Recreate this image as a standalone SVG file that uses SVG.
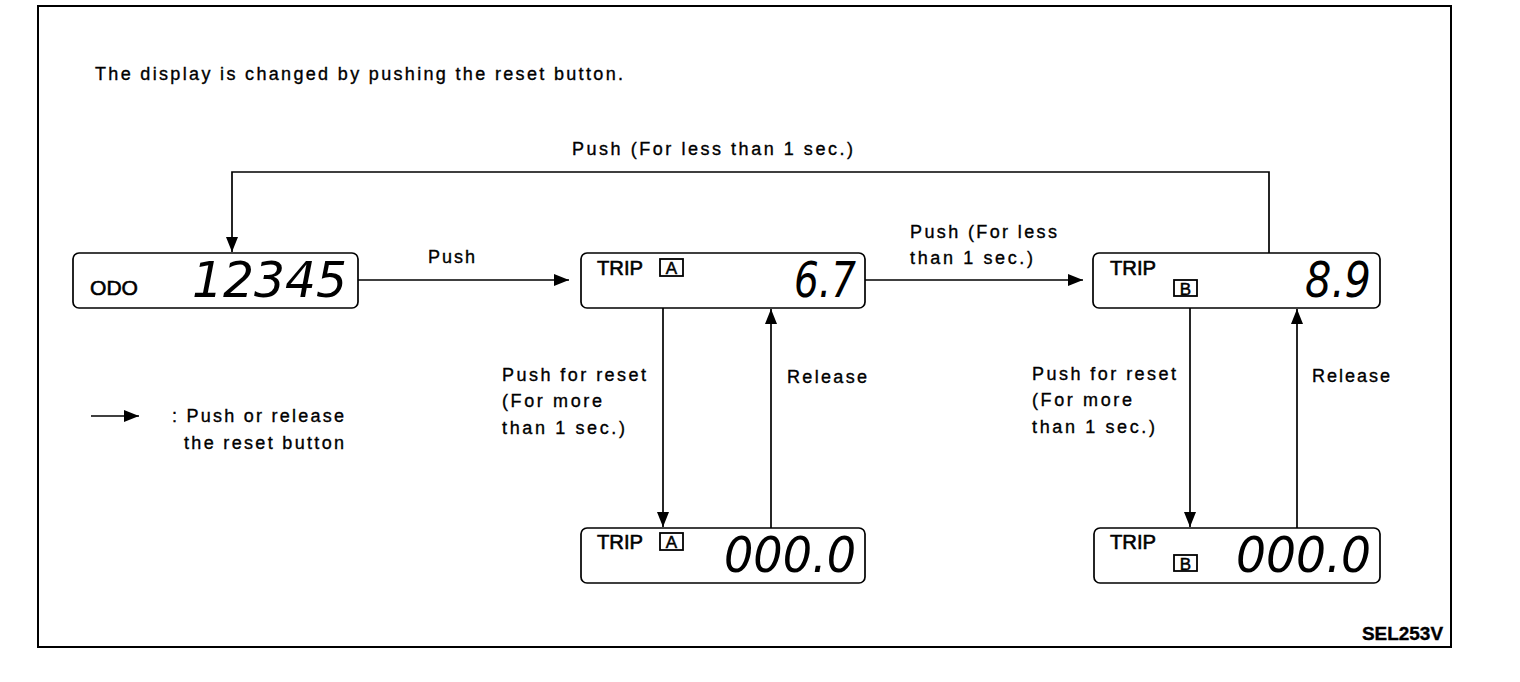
<svg xmlns="http://www.w3.org/2000/svg" width="1520" height="682" viewBox="0 0 1520 682">
<defs>
<style>
.lbl{font-family:"Liberation Sans",Arial,sans-serif;font-size:18px;fill:#000;stroke:#000;stroke-width:0.35}
.box{fill:#fff;stroke:#000;stroke-width:1.7}
.cap{font-family:"Liberation Sans",Arial,sans-serif;font-size:21px;fill:#000;stroke:#000;stroke-width:0.6}
.seg{font-family:"DejaVu Sans",sans-serif;font-size:50px;font-style:italic;font-weight:200;fill:#000}
.tag{fill:#fff;stroke:#000;stroke-width:1.8}
.tagt{font-family:"Liberation Sans",Arial,sans-serif;font-size:17px;fill:#000;stroke:#000;stroke-width:0.5;text-anchor:middle}
.ln{fill:none;stroke:#000;stroke-width:1.7}
</style>
<marker id="ah" markerWidth="16" markerHeight="14" refX="15" refY="7" orient="auto" markerUnits="userSpaceOnUse">
<path d="M0,1 L15,7 L0,13 Z" fill="#000"/>
</marker>
</defs>
<rect width="1520" height="682" fill="#fff"/>
<rect x="38" y="6" width="1413" height="641" fill="none" stroke="#000" stroke-width="2"/>
<text class="lbl" x="95" y="80" textLength="528" lengthAdjust="spacing">The display is changed by pushing the reset button.</text>
<text class="lbl" x="1362" y="640" font-weight="bold" font-size="16" textLength="81" lengthAdjust="spacingAndGlyphs">SEL253V</text>

<g id="connectors">
<polyline class="ln" points="1269,253 1269,172 232,172 232,252" marker-end="url(#ah)"/>
<line class="ln" x1="358" y1="280" x2="569" y2="280" marker-end="url(#ah)"/>
<line class="ln" x1="865" y1="280" x2="1083" y2="280" marker-end="url(#ah)"/>
<line class="ln" x1="663" y1="308" x2="663" y2="527" marker-end="url(#ah)"/>
<line class="ln" x1="771" y1="528" x2="771" y2="309" marker-end="url(#ah)"/>
<line class="ln" x1="1190" y1="308" x2="1190" y2="527" marker-end="url(#ah)"/>
<line class="ln" x1="1297" y1="528" x2="1297" y2="309" marker-end="url(#ah)"/>
<text class="lbl" x="572" y="155" textLength="281" lengthAdjust="spacing">Push (For less than 1 sec.)</text>
<text class="lbl" x="428" y="263" textLength="47" lengthAdjust="spacing">Push</text>
<text class="lbl" x="910" y="238" textLength="147" lengthAdjust="spacing">Push (For less</text>
<text class="lbl" x="910" y="264" textLength="123" lengthAdjust="spacing">than 1 sec.)</text>
<text class="lbl" x="502" y="381" textLength="144" lengthAdjust="spacing">Push for reset</text>
<text class="lbl" x="502" y="407" textLength="100" lengthAdjust="spacing">(For more</text>
<text class="lbl" x="502" y="434" textLength="123" lengthAdjust="spacing">than 1 sec.)</text>
<text class="lbl" x="787" y="383" textLength="80" lengthAdjust="spacing">Release</text>
<text class="lbl" x="1032" y="380" textLength="144" lengthAdjust="spacing">Push for reset</text>
<text class="lbl" x="1032" y="406" textLength="100" lengthAdjust="spacing">(For more</text>
<text class="lbl" x="1032" y="433" textLength="123" lengthAdjust="spacing">than 1 sec.)</text>
<text class="lbl" x="1312" y="382" textLength="78" lengthAdjust="spacing">Release</text>
</g>

<g id="legend">
<line class="ln" x1="91" y1="416" x2="139" y2="416" marker-end="url(#ah)"/>
<text class="lbl" x="172" y="422" textLength="172" lengthAdjust="spacing">: Push or release</text>
<text class="lbl" x="184" y="449" textLength="160" lengthAdjust="spacing">the reset button</text>
</g>

<g id="odo">
<rect class="box" x="73" y="253" width="285" height="55" rx="6"/>
<text class="cap" x="90" y="295" textLength="48" lengthAdjust="spacingAndGlyphs">ODO</text>
<text class="seg" x="192" y="297" textLength="155" lengthAdjust="spacingAndGlyphs">12345</text>
</g>

<g id="tripA">
<rect class="box" x="581" y="253" width="284" height="55" rx="6"/>
<text class="cap" x="597" y="275" textLength="46" lengthAdjust="spacingAndGlyphs">TRIP</text>
<rect class="tag" x="660" y="259" width="23" height="17"/>
<text class="tagt" x="671.5" y="274">A</text>
<text class="seg" x="794" y="297" textLength="62" lengthAdjust="spacingAndGlyphs">6.7</text>
</g>

<g id="tripB">
<rect class="box" x="1093" y="253" width="287" height="55" rx="6"/>
<text class="cap" x="1110" y="275" textLength="46" lengthAdjust="spacingAndGlyphs">TRIP</text>
<rect class="tag" x="1174" y="280" width="23" height="16"/>
<text class="tagt" x="1185.5" y="294.5">B</text>
<text class="seg" x="1305" y="297" textLength="66" lengthAdjust="spacingAndGlyphs">8.9</text>
</g>

<g id="tripA-reset">
<rect class="box" x="581" y="528" width="284" height="55" rx="6"/>
<text class="cap" x="597" y="549" textLength="46" lengthAdjust="spacingAndGlyphs">TRIP</text>
<rect class="tag" x="660" y="533" width="23" height="17"/>
<text class="tagt" x="671.5" y="548">A</text>
<text class="seg" x="724" y="572" textLength="132" lengthAdjust="spacingAndGlyphs">000.0</text>
</g>

<g id="tripB-reset">
<rect class="box" x="1094" y="528" width="286" height="55" rx="6"/>
<text class="cap" x="1110" y="549" textLength="46" lengthAdjust="spacingAndGlyphs">TRIP</text>
<rect class="tag" x="1174" y="555" width="23" height="16"/>
<text class="tagt" x="1185.5" y="569.5">B</text>
<text class="seg" x="1236" y="572" textLength="135" lengthAdjust="spacingAndGlyphs">000.0</text>
</g>
</svg>
